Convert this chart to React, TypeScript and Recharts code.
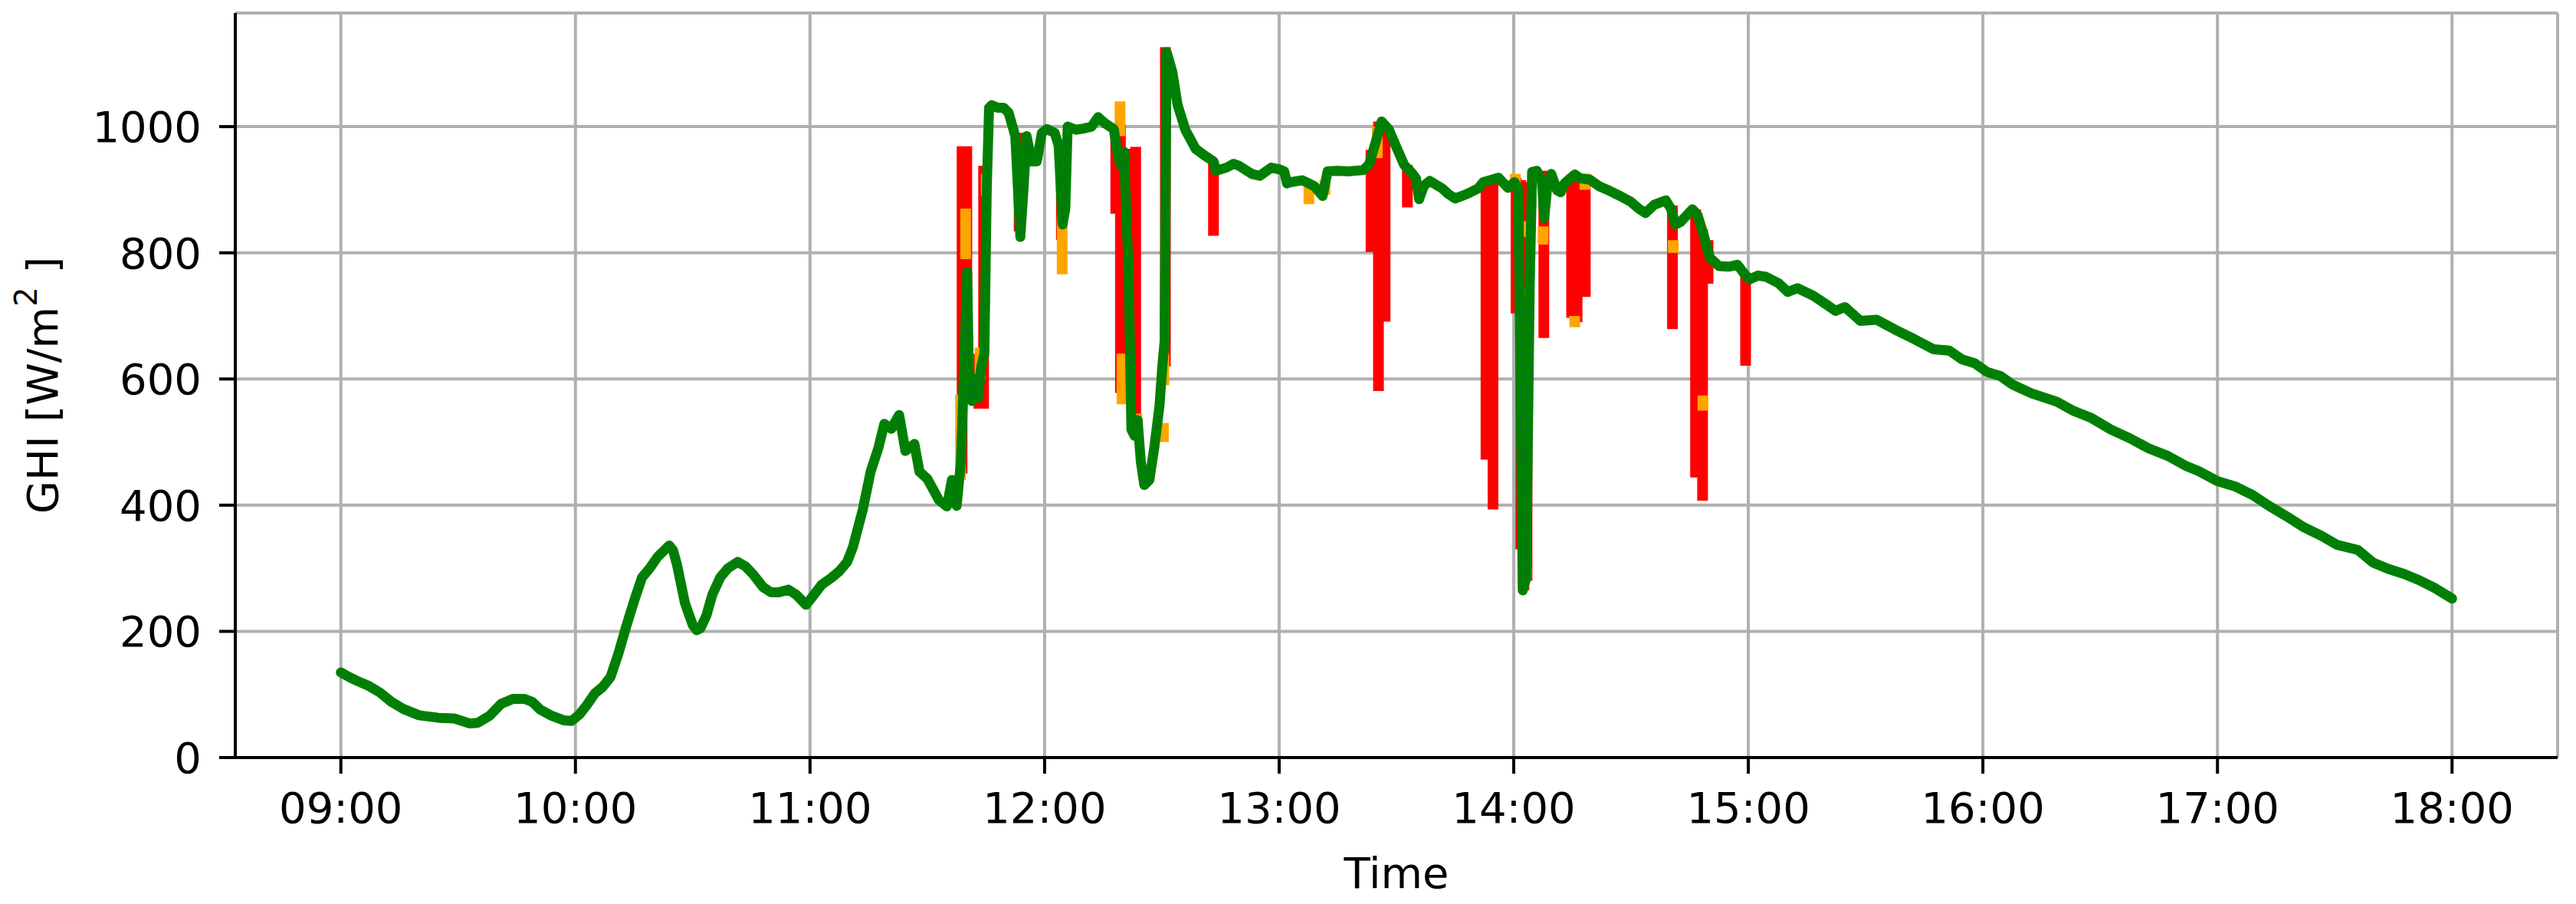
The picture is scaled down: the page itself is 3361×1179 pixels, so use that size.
import { LineChart, Line, XAxis, YAxis, CartesianGrid } from "recharts";

// minutes after 09:00, GHI in W/m²  (green: main measured trace)
const greenMinutes = [
  0, 2, 4, 7, 10, 13, 16, 20, 25, 29, 33, 35, 38, 41, 44, 47, 49, 51, 54, 57, 59,
  61, 63, 65, 67, 69, 71, 73, 75, 77, 79, 81, 83, 84, 85, 86, 88, 90, 91, 92, 93.5,
  95, 97, 99, 101.5, 103.5, 105.5, 108, 110, 112, 114.5, 116.5, 119, 121, 123,
  125.5, 127.6, 129.5, 131, 133.5, 135.5, 137.5, 139, 140.8, 142.8, 144.4, 146.7,
  148, 150, 153, 155, 156.3, 157.5, 158.6, 159.3, 160.2, 160.6, 161.4, 162.2, 163,
  163.8, 164.6, 165.2, 165.8, 166.5, 168, 169.5, 170.8, 172.5, 173.2, 173.8, 174.6,
  175.4, 176.7, 178, 179.3, 180.6, 182.6, 183.6, 184.6, 185.3, 185.9, 188, 190, 192,
  193.7, 195.5, 197.7, 198.6, 199.4, 200.3, 201.5, 202.2, 203, 203.8, 204.6, 205.5,
  206.8, 208.1, 209.4, 210.1, 210.7, 211.2, 211.6, 212.7, 214, 216, 218.6, 221.2,
  223.2, 223.8, 226.5, 228.3, 229.7, 233, 235, 238, 240.2, 241.3, 242, 243, 245.9,
  247.6, 249.1, 251.1, 252.4, 255, 257.6, 261.5, 263, 264.1, 266.2, 268, 270.3, 272,
  273.9, 275, 275.8, 277, 278.5, 281.7, 283.3, 285, 287.1, 288.3, 290.9, 292.2, 294,
  296.1, 298.5, 300.2, 301.2, 302.3, 303.2, 304.1, 304.7, 305.9, 307.2, 307.8, 308.5,
  309.6, 311.1, 312, 313, 315.6, 317, 319.4, 322, 324.6, 326.9, 329.9, 332, 333.7,
  335.9, 338.9, 340.2, 341.4, 342.7, 345.7, 347, 348.5, 349.1, 350.2, 352.5, 355,
  357.2, 359.2, 360.4, 362.5, 364.5, 367.7, 370.1, 372.6, 376.6, 379.5, 382.3, 384.7,
  388.7, 392.8, 397.6, 402.5, 407.4, 411.4, 414.7, 417.9, 421.1, 424.4, 427.6, 432.5,
  438.9, 443, 447.8, 452.7, 457.6, 462.4, 467.3, 472, 475.2, 480, 484.4, 489, 492.9,
  497.5, 502.1, 506.7, 510.6, 515.9, 519.8, 523.7, 527.7, 531.6, 535.5, 540,
];
const greenGhi = [
  135, 128, 122, 114, 103, 88, 77, 67, 63, 62, 54, 55, 66, 85, 93, 93, 88, 76, 66, 59, 58,
  68, 84, 102, 112, 128, 165, 208, 248, 285, 300, 318, 330, 336, 328, 305, 245, 210, 202, 205, 225,
  258, 285, 300, 310, 303, 290, 270, 262, 262, 266, 258, 242, 258, 274,
  285, 296, 310, 334, 393, 453, 491, 529, 521, 543, 486, 497,
  453, 442, 408, 398, 440, 399, 468, 600, 770, 620, 565, 600, 570,
  620, 640, 900, 1030, 1034, 1030, 1030, 1022, 985, 900, 825, 900,
  985, 945, 945, 990, 996, 990, 970, 845, 870, 1000, 995, 997, 1000,
  1015, 1005, 996, 960, 940, 960, 770, 520, 510, 535, 470, 432,
  440, 493, 558, 619, 660, 1118, 1110, 1086, 1035, 995, 965, 953,
  945, 930, 935, 941, 938, 925, 922, 935, 932, 929, 910, 912, 915,
  910, 905, 890, 929, 930, 929, 931, 940, 963, 1008, 996, 963, 939,
  927, 918, 885, 906, 914, 902, 893, 886, 891, 894, 902, 912, 915,
  919, 903, 912, 900, 265, 285, 751, 928, 930, 915, 855, 900,
  925, 899, 896, 910, 924, 918, 916, 905, 898, 891, 881, 870, 863,
  876, 883, 870, 845, 849, 869, 860, 830, 816, 792, 779, 778,
  781, 765, 758, 764, 762, 752, 738, 744, 732, 720, 708, 714,
  692, 694, 678, 663, 647, 645, 631, 625, 611, 605, 591, 577,
  564, 550, 538, 520, 506, 490, 478, 462, 454, 438, 430, 416, 400,
  383, 365, 351, 337, 329, 309, 299, 291, 281, 269, 252,
];

// red: short cloud-edge excursions (minute, lowest, highest)
const dipMinutes = [
  158.9, 160.1, 163.2, 164.4, 173.5, 184.3, 198.2, 199.4, 200.8, 203.3, 210.9, 223.2,
  263.5, 265.4, 267.1, 272.8, 292.9, 294.7, 300.6, 301.8, 302.6, 303.4, 307.7, 314.8,
  316.2, 318.3, 340.6, 346.5, 348.3, 349.7, 359.3,
];
const dipLow = [
  450, 567, 553, 553, 834, 820, 862, 578, 578, 512, 620, 827,
  801, 581, 691, 872, 472, 393, 704, 330, 265, 280, 665, 697,
  690, 730, 679, 444, 407, 751, 621,
];
const dipHigh = [
  969, 969, 640, 938, 990, 975, 1000, 1003, 965, 968, 1126, 945,
  963, 1008, 1000, 939, 912, 916, 918, 915, 912, 900, 930, 924,
  924, 925, 875, 869, 837, 820, 765,
];

// orange: pieces of the second trace that show through
const orangeMinutes = [
  158.5, 159.8, 163.5, 165.1, 184.5, 199.3, 199.8, 203.6, 210.4, 210.5, 247.6, 251.7,
  265.1, 300.4, 302.9, 302.9, 303.2, 307.5, 315.6, 318.2, 340.8, 348.4,
];
const orangeLow = [
  440, 790, 600, 890, 766, 985, 560, 505, 500, 590, 877, 892,
  950, 900, 825, 720, 285, 813, 682, 900, 800, 550,
];
const orangeHigh = [
  575, 870, 650, 925, 860, 1040, 640, 545, 530, 640, 915, 915,
  1000, 925, 850, 745, 300, 842, 700, 925, 820, 574,
];

const hourTicks = [0, 60, 120, 180, 240, 300, 360, 420, 480, 540];
const ghiTicks = [0, 200, 400, 600, 800, 1000];

const FONT = "DejaVu Sans";

const greenData = greenMinutes.map((t, i) => ({ t, v: greenGhi[i] }));

const toBars = (ts: number[], lows: number[], highs: number[]) =>
  ts.flatMap((t, i) => [
    { t, v: highs[i] },
    { t, v: lows[i] },
    { t, v: null },
  ]);

const redData = toBars(dipMinutes, dipLow, dipHigh);
const orangeData = toBars(orangeMinutes, orangeLow, orangeHigh);

const fmtTime = (m: number) => `${String(9 + Math.round(m / 60)).padStart(2, "0")}:00`;

const XLabel = (props: any) => {
  const vb = props.viewBox || { x: 307, y: 988, width: 3030, height: 191 };
  return (
    <text x={vb.x + vb.width / 2} y={vb.y + 170} textAnchor="middle" fontFamily={FONT} fontSize={56} fill="#000">
      Time
    </text>
  );
};

const YLabel = (props: any) => {
  const vb = props.viewBox || { x: 0, y: 17, width: 307, height: 971 };
  const cy = vb.y + vb.height / 2;
  const bx = 75;
  return (
    <text x={bx} y={cy} transform={`rotate(-90, ${bx}, ${cy})`} textAnchor="middle" fontFamily={FONT} fontSize={56} fill="#000">
      GHI [W/m
      <tspan dy={-27} fontSize={40}>2</tspan>
      <tspan dy={27}> ]</tspan>
    </text>
  );
};

const axisStroke = { stroke: "#000", strokeWidth: 4 };
const tickFont = { fill: "#000", fontSize: 56, fontFamily: FONT };

export default function App() {
  return (
    <div style={{ position: "absolute", left: 0, top: 0, width: 3361, height: 1179, background: "#fff" }}>
      <LineChart width={3361} height={1179} margin={{ top: 17, right: 24, bottom: 0, left: 0 }}>
        <CartesianGrid stroke="#b0b0b0" strokeWidth={4} />
        <XAxis
          dataKey="t"
          type="number"
          domain={[-27, 567]}
          ticks={hourTicks}
          interval={0}
          tickFormatter={fmtTime}
          height={191}
          tickSize={21}
          tickMargin={24}
          axisLine={axisStroke}
          tickLine={axisStroke}
          tick={tickFont}
          allowDataOverflow
          label={<XLabel />}
        />
        <XAxis xAxisId="top" orientation="top" type="number" domain={[-27, 567]} height={0} tick={false} tickLine={false} axisLine={axisStroke} />
        <YAxis
          type="number"
          domain={[0, 1180]}
          ticks={ghiTicks}
          interval={0}
          width={307}
          tickSize={21}
          tickMargin={23}
          axisLine={axisStroke}
          tickLine={axisStroke}
          tick={tickFont}
          allowDataOverflow
          label={<YLabel />}
        />
        <YAxis yAxisId="right" orientation="right" type="number" domain={[0, 1180]} width={0} tick={false} tickLine={false} axisLine={axisStroke} />
        <Line data={redData} dataKey="v" stroke="#ff0000" strokeWidth={14} dot={false} activeDot={false} isAnimationActive={false} />
        <Line data={orangeData} dataKey="v" stroke="#ffa500" strokeWidth={14} dot={false} activeDot={false} isAnimationActive={false} />
        <Line data={greenData} dataKey="v" stroke="#008000" strokeWidth={13} strokeLinejoin="round" strokeLinecap="round" dot={false} activeDot={false} isAnimationActive={false} />
        <Line data={greenData} dataKey="v" stroke="#1f3f9f" strokeOpacity={0.55} strokeWidth={3} strokeDasharray="2 12" dot={false} activeDot={false} isAnimationActive={false} />
      </LineChart>
    </div>
  );
}
